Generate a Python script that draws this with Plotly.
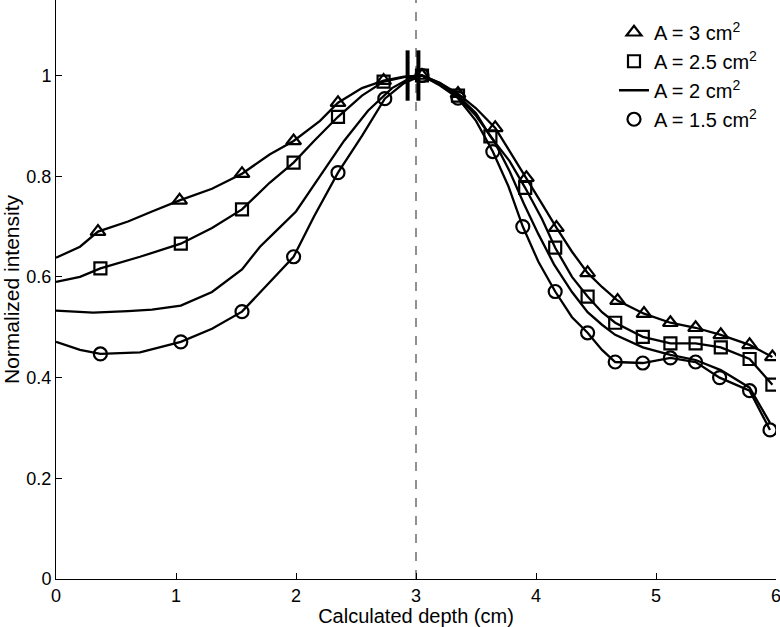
import plotly.graph_objects as go

# ---- data ----
# A = 3 cm^2 (triangles)
a3_line_x = [0, 0.2, 0.35, 0.6, 0.8, 1.03, 1.3, 1.55, 1.78, 1.98, 2.2, 2.35, 2.55, 2.73, 2.9, 3.05,
             3.2, 3.35, 3.5, 3.66, 3.78, 3.92, 4.05, 4.17, 4.3, 4.43, 4.55, 4.68, 4.9, 5.12, 5.33, 5.54, 5.78, 5.97]
a3_line_y = [0.638, 0.66, 0.69, 0.71, 0.73, 0.752, 0.775, 0.805, 0.843, 0.87, 0.91, 0.946, 0.975, 0.99, 0.998, 1.0,
             0.985, 0.964, 0.935, 0.896, 0.85, 0.797, 0.745, 0.698, 0.65, 0.608, 0.58, 0.553, 0.527, 0.509, 0.499, 0.485, 0.465, 0.441]
a3_mark_x = [0.35, 1.03, 1.55, 1.98, 2.35, 2.73, 3.05, 3.35, 3.66, 3.92, 4.17, 4.43, 4.68, 4.9, 5.12, 5.33, 5.54, 5.78, 5.97]
a3_mark_y = [0.69, 0.752, 0.805, 0.87, 0.946, 0.99, 1.0, 0.964, 0.896, 0.797, 0.698, 0.608, 0.553, 0.527, 0.509, 0.499, 0.485, 0.465, 0.441]

# A = 2.5 cm^2 (squares)
a25_line_x = [0, 0.2, 0.37, 0.7, 1.04, 1.3, 1.55, 1.78, 1.98, 2.15, 2.35, 2.55, 2.73, 2.9, 3.05,
              3.2, 3.35, 3.5, 3.62, 3.78, 3.91, 4.05, 4.16, 4.3, 4.43, 4.55, 4.66, 4.89, 5.12, 5.33, 5.54, 5.78, 5.97]
a25_line_y = [0.59, 0.60, 0.617, 0.64, 0.666, 0.697, 0.734, 0.787, 0.827, 0.87, 0.918, 0.96, 0.988, 0.997, 1.0,
              0.985, 0.96, 0.925, 0.879, 0.83, 0.777, 0.715, 0.658, 0.6, 0.561, 0.53, 0.509, 0.481, 0.468, 0.468, 0.46, 0.437, 0.386]
a25_mark_x = [0.37, 1.04, 1.55, 1.98, 2.35, 2.73, 3.05, 3.35, 3.62, 3.91, 4.16, 4.43, 4.66, 4.89, 5.12, 5.33, 5.54, 5.78, 5.97]
a25_mark_y = [0.617, 0.666, 0.734, 0.827, 0.918, 0.988, 1.0, 0.96, 0.879, 0.777, 0.658, 0.561, 0.509, 0.481, 0.468, 0.468, 0.46, 0.437, 0.386]

# A = 2 cm^2 (line only)
a2_line_x = [0, 0.31, 0.6, 0.8, 1.04, 1.3, 1.55, 1.7, 1.85, 2.0, 2.2, 2.4, 2.6, 2.8, 2.95, 3.05,
             3.2, 3.35, 3.5, 3.65, 3.78, 3.9, 4.02, 4.15, 4.3, 4.43, 4.55, 4.66, 4.89, 5.12, 5.33, 5.54, 5.78, 5.95]
a2_line_y = [0.533, 0.529, 0.532, 0.535, 0.543, 0.57, 0.615, 0.66, 0.695, 0.73, 0.8, 0.87, 0.93, 0.975, 0.995, 1.0,
             0.982, 0.958, 0.92, 0.87, 0.81, 0.745, 0.685, 0.625, 0.57, 0.53, 0.505, 0.485, 0.46, 0.445, 0.435, 0.415, 0.38, 0.31]

# A = 1.5 cm^2 (circles)
a15_line_x = [0, 0.2, 0.37, 0.7, 1.04, 1.3, 1.55, 1.78, 1.98, 2.15, 2.35, 2.55, 2.74, 2.9, 3.05,
              3.2, 3.35, 3.5, 3.64, 3.77, 3.89, 4.02, 4.16, 4.3, 4.43, 4.55, 4.66, 4.89, 5.12, 5.33, 5.53, 5.78, 5.95]
a15_line_y = [0.471, 0.455, 0.447, 0.45, 0.471, 0.497, 0.531, 0.59, 0.64, 0.72, 0.807, 0.88, 0.954, 0.985, 1.0,
              0.98, 0.955, 0.91, 0.849, 0.78, 0.70, 0.63, 0.571, 0.52, 0.489, 0.455, 0.431, 0.429, 0.439, 0.431, 0.40, 0.374, 0.296]
a15_mark_x = [0.37, 1.04, 1.55, 1.98, 2.35, 2.74, 3.05, 3.35, 3.64, 3.89, 4.16, 4.43, 4.66, 4.89, 5.12, 5.33, 5.53, 5.78, 5.95]
a15_mark_y = [0.447, 0.471, 0.531, 0.64, 0.807, 0.954, 1.0, 0.955, 0.849, 0.70, 0.571, 0.489, 0.431, 0.429, 0.439, 0.431, 0.40, 0.374, 0.296]

# reference marks
ref_depth = 3.0
bar_x = [2.93, 3.02]
bar_y = [0.95, 1.05]

x_ticks = [0, 1, 2, 3, 4, 5, 6]
y_ticks = [0, 0.2, 0.4, 0.6, 0.8, 1]
y_tick_labels = ["0", "0.2", "0.4", "0.6", "0.8", "1"]

FONT = "Liberation Sans, Arial, sans-serif"
BLACK = "#000000"
LW = 2.3

fig = go.Figure()

# dashed vertical reference line
fig.add_trace(go.Scatter(x=[ref_depth, ref_depth], y=[0, 1.15], mode="lines",
                         line=dict(color="#222222", width=1, dash="dash"),
                         showlegend=False, hoverinfo="skip"))

# lines
for lx, ly in [(a3_line_x, a3_line_y), (a25_line_x, a25_line_y), (a15_line_x, a15_line_y)]:
    fig.add_trace(go.Scatter(x=lx, y=ly, mode="lines", line=dict(color=BLACK, width=LW),
                             showlegend=False))

# markers (legend entries)
fig.add_trace(go.Scatter(x=a3_mark_x, y=a3_mark_y, mode="markers", name="A = 3 cm<sup>2</sup>",
                         legendgroup="g1",
                         marker=dict(symbol="triangle-up-open", size=13, color=BLACK, line=dict(width=2.2))))
fig.add_trace(go.Scatter(x=a25_mark_x, y=a25_mark_y, mode="markers", name="A = 2.5 cm<sup>2</sup>",
                         legendgroup="g2",
                         marker=dict(symbol="square-open", size=12, color=BLACK, line=dict(width=2.2))))
fig.add_trace(go.Scatter(x=a2_line_x, y=a2_line_y, mode="lines", name="A = 2 cm<sup>2</sup>",
                         legendgroup="g3",
                         line=dict(color=BLACK, width=LW)))
fig.add_trace(go.Scatter(x=a15_mark_x, y=a15_mark_y, mode="markers", name="A = 1.5 cm<sup>2</sup>",
                         legendgroup="g4",
                         marker=dict(symbol="circle-open", size=13, color=BLACK, line=dict(width=2.2))))

# thick bars near the peak
bx, by = [], []
for xb in bar_x:
    bx += [xb, xb, None]
    by += [bar_y[0], bar_y[1], None]
fig.add_trace(go.Scatter(x=bx, y=by, mode="lines", line=dict(color=BLACK, width=4),
                         showlegend=False, hoverinfo="skip"))

fig.update_layout(
    width=780, height=627,
    margin=dict(l=56, r=4, t=0, b=48),
    paper_bgcolor="white", plot_bgcolor="white",
    font=dict(family=FONT, size=18, color=BLACK),
    showlegend=True,
    legend=dict(x=0.775, y=0.978, xanchor="left", yanchor="top",
                bgcolor="rgba(0,0,0,0)", borderwidth=0,
                font=dict(family=FONT, size=20, color=BLACK),
                tracegroupgap=12, traceorder="normal"),
    xaxis=dict(range=[0, 6], tickvals=x_ticks, ticks="inside", ticklen=6, tickwidth=1,
               tickcolor=BLACK, showline=True, linecolor=BLACK, linewidth=1,
               showgrid=False, zeroline=False, mirror=False, automargin=False,
               ticklabeloverflow="allow",
               title=dict(text="Calculated depth (cm)", standoff=4, font=dict(size=20)),
               tickfont=dict(size=18)),
    yaxis=dict(range=[0, 1.15], tickvals=y_ticks, ticktext=y_tick_labels, ticks="inside",
               ticklen=6, tickwidth=1, tickcolor=BLACK, showline=True, linecolor=BLACK,
               linewidth=1, showgrid=False, zeroline=False, mirror=False, automargin=False,
               title=dict(text="Normalized intensity", standoff=4, font=dict(size=21)),
               tickfont=dict(size=18)),
)

fig.write_html("out.html", config={"displayModeBar": False},
               post_script="document.body.style.margin='0';")
